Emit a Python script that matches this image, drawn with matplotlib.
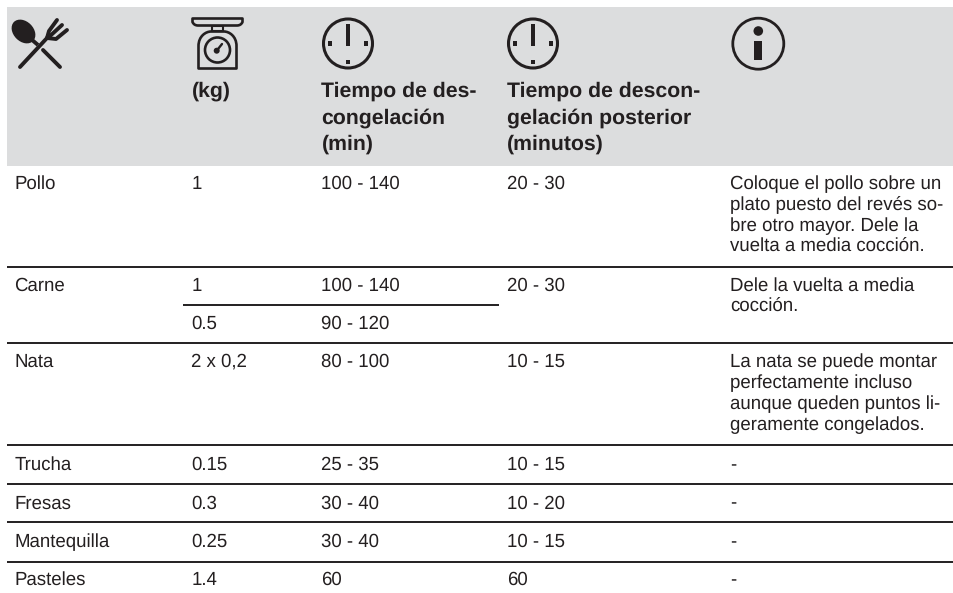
import matplotlib
matplotlib.use('Agg')
import matplotlib.pyplot as plt
from matplotlib.patches import Rectangle, Circle, Ellipse, PathPatch
from matplotlib.path import Path

W, H = 954, 593
plt.rcParams['font.family'] = ['Liberation Sans', 'DejaVu Sans']
plt.rcParams['text.hinting'] = 'no_hinting'

# ---------- table content ----------
foods = ['Pollo', 'Carne', 'Nata', 'Trucha', 'Fresas', 'Mantequilla', 'Pasteles']
weights = ['1', '1', '0.5', '2 x 0,2', '0.15', '0.3', '0.25', '1.4']
times = ['100 - 140', '100 - 140', '90 - 120', '80 - 100', '25 - 35', '30 - 40', '30 - 40', '60']
rest = ['20 - 30', '20 - 30', '10 - 15', '10 - 15', '10 - 20', '10 - 15', '60']
notes = [['Coloque el pollo sobre un', 'plato puesto del revés so-', 'bre otro mayor. Dele la', 'vuelta a media cocción.'],
         ['Dele la vuelta a media', 'cocción.'],
         ['La nata se puede montar', 'perfectamente incluso', 'aunque queden puntos li-', 'geramente congelados.'],
         ['-'], ['-'], ['-'], ['-']]
header_weight = ['(kg)']
header_time = ['Tiempo de des-', 'congelación', '(min)']
header_rest = ['Tiempo de descon-', 'gelación posterior', '(minutos)']

# ---------- layout (pixels) ----------
food_base = [189, 291, 367, 470, 508.5, 547, 585]
weight_base = [189, 291, 329, 367, 470, 508.5, 547, 585]
x_food, x_weight, x_time, x_rest, x_note = 14.5, 191.5, 321.5, 507, 730
rules_y = [267, 343, 445, 484, 522, 562]
header_base = [97, 123.5, 150]
note_step = 21
INK = '#231f20'
FS = 13.45
FS_B = 15.3

fig = plt.figure(figsize=(W / 100, H / 100), dpi=100)
ax = fig.add_axes([0, 0, 1, 1])
ax.set_xlim(0, W)
ax.set_ylim(H, 0)
ax.axis('off')

ax.add_patch(Rectangle((7, 7), W - 7, 159, fc='#dcddde', ec='none'))

def put(x, y, s, bold=False):
    ax.text(x, y, s, fontsize=FS_B if bold else FS, fontweight='bold' if bold else 'normal',
            color=INK, ha='left', va='baseline')

for s, y in zip(foods, food_base):
    put(x_food, y, s)
for s, y in zip(weights, weight_base):
    put(x_weight, y, s)
for s, y in zip(times, weight_base):
    put(x_time, y, s)
for s, y in zip(rest, food_base):
    put(x_rest, y, s)
for lines, y in zip(notes, food_base):
    for i, s in enumerate(lines):
        put(x_note, y + i * note_step, s)

for x, lines in ((x_weight, header_weight), (x_time, header_time), (x_rest, header_rest)):
    for s, y in zip(lines, header_base):
        put(x, y, s, bold=True)

for y in rules_y:
    ax.plot([7, W], [y, y], color=INK, lw=1.4, solid_capstyle='butt')
ax.plot([183, 499], [305, 305], color=INK, lw=1.4, solid_capstyle='butt')

# ---------- header icons ----------
def clock(cx):
    cy = 43.5
    ax.add_patch(Circle((cx, cy), 24.5, fc='none', ec=INK, lw=2.2))
    ax.add_patch(Rectangle((cx - 1.9, 24), 3.8, 22, fc=INK, ec='none'))
    for dx, dy in ((-18, 0), (18, 0), (0, 18.5)):
        ax.add_patch(Rectangle((cx + dx - 2.3, cy + dy - 2.3), 4.6, 4.6, fc=INK, ec='none'))

clock(348)
clock(533)

# info icon
ax.add_patch(Circle((758.3, 43.7), 25.5, fc='none', ec=INK, lw=2.0))
ax.add_patch(Circle((758.3, 31), 4.8, fc=INK, ec='none'))
ax.add_patch(Rectangle((754, 41), 8.5, 18.5, fc=INK, ec='none'))

# scale icon
tray = Path([(192.5, 18.5), (242.5, 18.5), (242.5, 22), (241, 25.5), (237, 25.5),
             (198, 25.5), (194, 25.5), (192.5, 22), (192.5, 18.5)],
            [Path.MOVETO, Path.LINETO, Path.LINETO, Path.CURVE3, Path.CURVE3,
             Path.LINETO, Path.CURVE3, Path.CURVE3, Path.CLOSEPOLY])
ax.add_patch(PathPatch(tray, fc='none', ec=INK, lw=1.9, joinstyle='round'))
ax.add_patch(Rectangle((212, 26), 11, 5, fc='none', ec=INK, lw=1.5))
body = Path([(198.5, 68.5), (198.5, 46), (198.5, 36), (206, 31.5), (211, 31.5), (224, 31.5),
             (229, 31.5), (236.5, 36), (236.5, 46), (236.5, 68.5), (198.5, 68.5)],
            [Path.MOVETO, Path.LINETO, Path.CURVE4, Path.CURVE4, Path.CURVE4, Path.LINETO,
             Path.CURVE4, Path.CURVE4, Path.CURVE4, Path.LINETO, Path.CLOSEPOLY])
ax.add_patch(PathPatch(body, fc='none', ec=INK, lw=1.9, joinstyle='round'))
ax.add_patch(Circle((217.5, 50), 12.5, fc='none', ec=INK, lw=1.9))
ax.add_patch(Circle((216.7, 50.7), 3, fc=INK, ec='none'))
ax.plot([216.7, 222], [50.7, 44], color=INK, lw=1.7, solid_capstyle='round')

# spoon and fork icon
ax.add_patch(Ellipse((23.5, 31.5), 27, 20, angle=45, fc=INK, ec='none'))
ax.plot([31, 38], [39, 45], color=INK, lw=2.8, solid_capstyle='butt')
ax.plot([43, 60], [50, 67], color=INK, lw=2.8, solid_capstyle='round')
ax.plot([20, 47], [67, 38], color=INK, lw=2.8, solid_capstyle='round')
ax.plot([47, 49, 57], [38, 31, 20], color=INK, lw=2.8, solid_capstyle='round', solid_joinstyle='round')
ax.plot([50, 62], [36, 25], color=INK, lw=2.8, solid_capstyle='round')
ax.plot([47, 56, 67], [38, 39, 30], color=INK, lw=2.8, solid_capstyle='round', solid_joinstyle='round')

fig.savefig('out.png', dpi=100, facecolor='white')
